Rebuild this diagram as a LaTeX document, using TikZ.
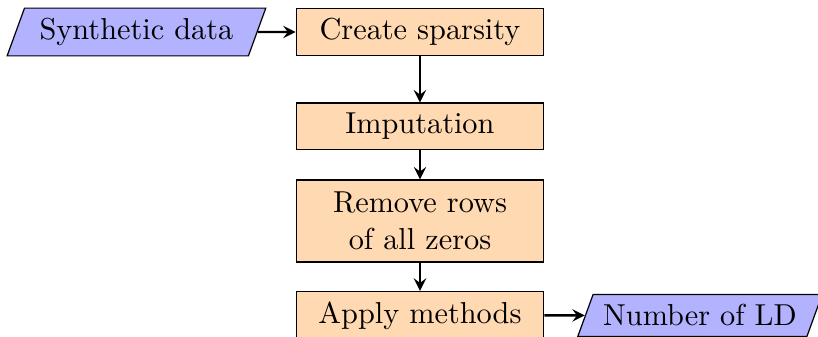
\documentclass[tikz,border=0pt]{standalone}
\usetikzlibrary{shapes.geometric, arrows, positioning}

\tikzstyle{io} = [trapezium, trapezium left angle=70, trapezium right angle=110, text centered, draw=black, fill=blue!30]
\tikzstyle{process} = [rectangle, minimum width=2.87cm, text centered, draw=black, fill=orange!30]
\tikzstyle{arrow} = [thick, ->, >=stealth]

\begin{document}
\begin{tikzpicture}[node distance=1.096cm]
  \useasboundingbox (-4.872,0.371) rectangle (4.617,-3.538);
  % main column
  \node (pro1) [process] {Create sparsity};
  \node (pro2) [process, below of=pro1] {Imputation};
  \node (pro3) [process, below of=pro2, align=center, minimum height=0.95cm] {Remove rows\\of all zeros};
  \node (pro4) [process, below of=pro3] {Apply methods};
  % input and output
  \node (in1) [io, inner xsep=5pt, left=0.44cm of pro1] {Synthetic data};
  \node (out1) [io, right=0.47cm of pro4] {Number of LD};

  \draw [arrow] (in1) -- (pro1);
  \draw [arrow] (pro1) -- (pro2);
  \draw [arrow] (pro2) -- (pro3);
  \draw [arrow] (pro3) -- (pro4);
  \draw [arrow] (pro4) -- (out1);
\end{tikzpicture}
\end{document}
